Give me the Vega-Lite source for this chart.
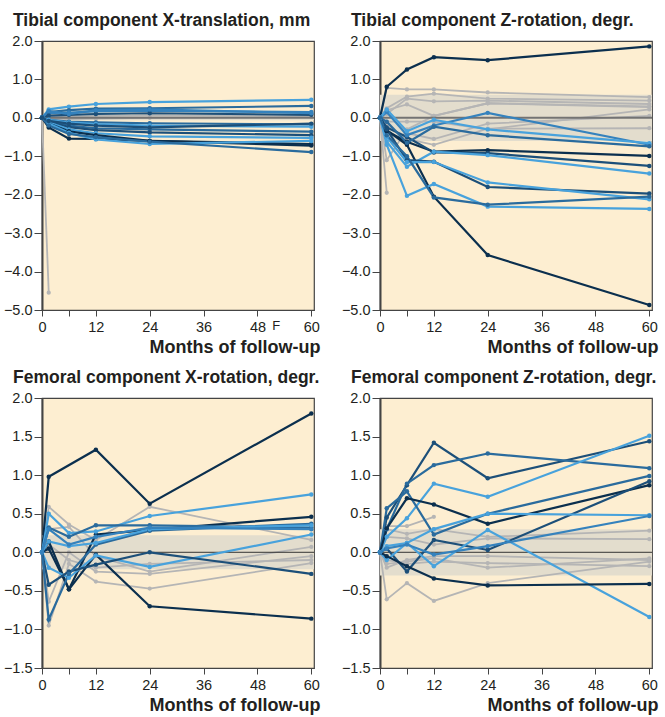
{
"$schema":"https://vega.github.io/schema/vega-lite/v6.json",
"padding":{"left":2,"top":10,"right":0,"bottom":0},
"columns":2,
"spacing":{"row":10,"column":19},
"config":{
 "font":"Liberation Sans",
 "view":{"fill":"#fdeed1","stroke":"#444444","strokeWidth":1.2},
 "title":{"anchor":"start","frame":"group","dx":-29,"fontSize":17.5,"fontWeight":"bold","color":"#231f20","offset":4},
 "axis":{"grid":false,"labelFontSize":14.5,"labelColor":"#231f20","domainColor":"#444444","tickColor":"#444444","titleFontSize":18,"titleFontWeight":"bold","titleColor":"#231f20"}
},
"datasets":{
"bands":[{"p":1,"v":-0.06,"v2":0.06},{"p":2,"v":-0.6,"v2":0.6},{"p":3,"v":-0.22,"v2":0.22},{"p":4,"v":-0.3,"v2":0.3}],
"zero":[{"p":1,"v":0},{"p":2,"v":0},{"p":3,"v":0},{"p":4,"v":0}],
"pts":[
{"p":1,"id":"a","s":"light","t":0,"v":0},{"p":1,"id":"a","s":"light","t":1.5,"v":0.22},{"p":1,"id":"a","s":"light","t":6,"v":0.29},{"p":1,"id":"a","s":"light","t":12,"v":0.36},{"p":1,"id":"a","s":"light","t":24,"v":0.41},{"p":1,"id":"a","s":"light","t":60,"v":0.47},
{"p":1,"id":"b","s":"mid","t":0,"v":0},{"p":1,"id":"b","s":"mid","t":1.5,"v":0.15},{"p":1,"id":"b","s":"mid","t":6,"v":0.2},{"p":1,"id":"b","s":"mid","t":12,"v":0.24},{"p":1,"id":"b","s":"mid","t":24,"v":0.25},{"p":1,"id":"b","s":"mid","t":60,"v":0.31},
{"p":1,"id":"c","s":"mid2","t":0,"v":0},{"p":1,"id":"c","s":"mid2","t":1.5,"v":0.12},{"p":1,"id":"c","s":"mid2","t":6,"v":0.14},{"p":1,"id":"c","s":"mid2","t":12,"v":0.17},{"p":1,"id":"c","s":"mid2","t":24,"v":0.18},{"p":1,"id":"c","s":"mid2","t":60,"v":0.15},
{"p":1,"id":"d","s":"dark","t":0,"v":0},{"p":1,"id":"d","s":"dark","t":1.5,"v":0.06},{"p":1,"id":"d","s":"dark","t":6,"v":0.08},{"p":1,"id":"d","s":"dark","t":12,"v":0.1},{"p":1,"id":"d","s":"dark","t":24,"v":0.12},{"p":1,"id":"d","s":"dark","t":60,"v":0.08},
{"p":1,"id":"e","s":"mid2","t":0,"v":0},{"p":1,"id":"e","s":"mid2","t":1.5,"v":0.18},{"p":1,"id":"e","s":"mid2","t":6,"v":0.1},{"p":1,"id":"e","s":"mid2","t":12,"v":0.2},{"p":1,"id":"e","s":"mid2","t":24,"v":0.22},{"p":1,"id":"e","s":"mid2","t":60,"v":0.12},
{"p":1,"id":"f","s":"mid","t":0,"v":0},{"p":1,"id":"f","s":"mid","t":1.5,"v":-0.05},{"p":1,"id":"f","s":"mid","t":6,"v":-0.1},{"p":1,"id":"f","s":"mid","t":12,"v":-0.12},{"p":1,"id":"f","s":"mid","t":24,"v":-0.14},{"p":1,"id":"f","s":"mid","t":60,"v":-0.17},
{"p":1,"id":"g","s":"light","t":0,"v":0},{"p":1,"id":"g","s":"light","t":1.5,"v":-0.05},{"p":1,"id":"g","s":"light","t":6,"v":-0.12},{"p":1,"id":"g","s":"light","t":12,"v":-0.16},{"p":1,"id":"g","s":"light","t":24,"v":-0.2},{"p":1,"id":"g","s":"light","t":60,"v":-0.23},
{"p":1,"id":"h","s":"mid","t":0,"v":0},{"p":1,"id":"h","s":"mid","t":1.5,"v":-0.1},{"p":1,"id":"h","s":"mid","t":6,"v":-0.2},{"p":1,"id":"h","s":"mid","t":12,"v":-0.27},{"p":1,"id":"h","s":"mid","t":24,"v":-0.3},{"p":1,"id":"h","s":"mid","t":60,"v":-0.36},
{"p":1,"id":"i","s":"dark","t":0,"v":0},{"p":1,"id":"i","s":"dark","t":1.5,"v":-0.1},{"p":1,"id":"i","s":"dark","t":6,"v":-0.24},{"p":1,"id":"i","s":"dark","t":12,"v":-0.32},{"p":1,"id":"i","s":"dark","t":24,"v":-0.38},{"p":1,"id":"i","s":"dark","t":60,"v":-0.45},
{"p":1,"id":"j","s":"light","t":0,"v":0},{"p":1,"id":"j","s":"light","t":1.5,"v":-0.12},{"p":1,"id":"j","s":"light","t":6,"v":-0.3},{"p":1,"id":"j","s":"light","t":12,"v":-0.4},{"p":1,"id":"j","s":"light","t":24,"v":-0.48},{"p":1,"id":"j","s":"light","t":60,"v":-0.52},
{"p":1,"id":"k","s":"navy","t":0,"v":0},{"p":1,"id":"k","s":"navy","t":1.5,"v":-0.25},{"p":1,"id":"k","s":"navy","t":6,"v":-0.54},{"p":1,"id":"k","s":"navy","t":12,"v":-0.55},{"p":1,"id":"k","s":"navy","t":24,"v":-0.6},{"p":1,"id":"k","s":"navy","t":60,"v":-0.68},
{"p":1,"id":"l","s":"navy","t":0,"v":0},{"p":1,"id":"l","s":"navy","t":1.5,"v":-0.15},{"p":1,"id":"l","s":"navy","t":6,"v":-0.35},{"p":1,"id":"l","s":"navy","t":12,"v":-0.45},{"p":1,"id":"l","s":"navy","t":24,"v":-0.6},{"p":1,"id":"l","s":"navy","t":60,"v":-0.72},
{"p":1,"id":"m","s":"light","t":0,"v":0},{"p":1,"id":"m","s":"light","t":1.5,"v":-0.15},{"p":1,"id":"m","s":"light","t":6,"v":-0.39},{"p":1,"id":"m","s":"light","t":12,"v":-0.56},{"p":1,"id":"m","s":"light","t":24,"v":-0.68},{"p":1,"id":"m","s":"light","t":60,"v":-0.6},
{"p":1,"id":"n","s":"mid","t":0,"v":0},{"p":1,"id":"n","s":"mid","t":1.5,"v":-0.2},{"p":1,"id":"n","s":"mid","t":6,"v":-0.42},{"p":1,"id":"n","s":"mid","t":12,"v":-0.5},{"p":1,"id":"n","s":"mid","t":24,"v":-0.62},{"p":1,"id":"n","s":"mid","t":60,"v":-0.89},
{"p":1,"id":"o","s":"dark","t":0,"v":0},{"p":1,"id":"o","s":"dark","t":1.5,"v":-0.08},{"p":1,"id":"o","s":"dark","t":6,"v":-0.15},{"p":1,"id":"o","s":"dark","t":12,"v":-0.2},{"p":1,"id":"o","s":"dark","t":24,"v":-0.25},{"p":1,"id":"o","s":"dark","t":60,"v":-0.15},
{"p":1,"id":"q","s":"grey","t":0,"v":0},{"p":1,"id":"q","s":"grey","t":1.5,"v":-4.55},
{"p":1,"id":"r","s":"grey","t":0,"v":0},{"p":1,"id":"r","s":"grey","t":1.5,"v":0.02},{"p":1,"id":"r","s":"grey","t":6,"v":0.03},{"p":1,"id":"r","s":"grey","t":12,"v":0.05},{"p":1,"id":"r","s":"grey","t":24,"v":0.06},{"p":1,"id":"r","s":"grey","t":60,"v":0.08},
{"p":1,"id":"u","s":"grey","t":0,"v":0},{"p":1,"id":"u","s":"grey","t":1.5,"v":-0.02},{"p":1,"id":"u","s":"grey","t":6,"v":-0.03},{"p":1,"id":"u","s":"grey","t":12,"v":-0.02},{"p":1,"id":"u","s":"grey","t":24,"v":0},{"p":1,"id":"u","s":"grey","t":60,"v":0.03},

{"p":2,"id":"A","s":"navy","t":0,"v":0},{"p":2,"id":"A","s":"navy","t":1.5,"v":0.81},{"p":2,"id":"A","s":"navy","t":6,"v":1.26},{"p":2,"id":"A","s":"navy","t":12,"v":1.58},{"p":2,"id":"A","s":"navy","t":24,"v":1.5},{"p":2,"id":"A","s":"navy","t":60,"v":1.86},
{"p":2,"id":"B","s":"navy","t":0,"v":0},{"p":2,"id":"B","s":"navy","t":1.5,"v":-0.32},{"p":2,"id":"B","s":"navy","t":6,"v":-0.7},{"p":2,"id":"B","s":"navy","t":12,"v":-2.05},{"p":2,"id":"B","s":"navy","t":24,"v":-3.57},{"p":2,"id":"B","s":"navy","t":60,"v":-4.87},
{"p":2,"id":"C","s":"navy","t":0,"v":0},{"p":2,"id":"C","s":"navy","t":1.5,"v":-0.35},{"p":2,"id":"C","s":"navy","t":6,"v":-0.62},{"p":2,"id":"C","s":"navy","t":12,"v":-0.88},{"p":2,"id":"C","s":"navy","t":24,"v":-0.84},{"p":2,"id":"C","s":"navy","t":60,"v":-0.99},
{"p":2,"id":"D","s":"dark","t":0,"v":0},{"p":2,"id":"D","s":"dark","t":1.5,"v":-0.25},{"p":2,"id":"D","s":"dark","t":6,"v":-0.5},{"p":2,"id":"D","s":"dark","t":12,"v":-0.9},{"p":2,"id":"D","s":"dark","t":24,"v":-0.92},{"p":2,"id":"D","s":"dark","t":60,"v":-1.25},
{"p":2,"id":"E","s":"light","t":0,"v":0},{"p":2,"id":"E","s":"light","t":1.5,"v":-0.62},{"p":2,"id":"E","s":"light","t":6,"v":-1.27},{"p":2,"id":"E","s":"light","t":12,"v":-0.88},{"p":2,"id":"E","s":"light","t":24,"v":-0.97},{"p":2,"id":"E","s":"light","t":60,"v":-1.45},
{"p":2,"id":"F","s":"mid2","t":0,"v":0},{"p":2,"id":"F","s":"mid2","t":1.5,"v":0.15},{"p":2,"id":"F","s":"mid2","t":6,"v":-0.45},{"p":2,"id":"F","s":"mid2","t":12,"v":-0.2},{"p":2,"id":"F","s":"mid2","t":24,"v":0.13},{"p":2,"id":"F","s":"mid2","t":60,"v":-0.7},
{"p":2,"id":"G","s":"light","t":0,"v":0},{"p":2,"id":"G","s":"light","t":1.5,"v":0.22},{"p":2,"id":"G","s":"light","t":6,"v":-0.35},{"p":2,"id":"G","s":"light","t":12,"v":-0.05},{"p":2,"id":"G","s":"light","t":24,"v":-0.3},{"p":2,"id":"G","s":"light","t":60,"v":-0.66},
{"p":2,"id":"H","s":"mid","t":0,"v":0},{"p":2,"id":"H","s":"mid","t":1.5,"v":-0.1},{"p":2,"id":"H","s":"mid","t":6,"v":-0.65},{"p":2,"id":"H","s":"mid","t":12,"v":-0.23},{"p":2,"id":"H","s":"mid","t":24,"v":-0.45},{"p":2,"id":"H","s":"mid","t":60,"v":-0.74},
{"p":2,"id":"I","s":"dark","t":0,"v":0},{"p":2,"id":"I","s":"dark","t":1.5,"v":-0.3},{"p":2,"id":"I","s":"dark","t":6,"v":-1.1},{"p":2,"id":"I","s":"dark","t":12,"v":-1.14},{"p":2,"id":"I","s":"dark","t":24,"v":-1.8},{"p":2,"id":"I","s":"dark","t":60,"v":-1.97},
{"p":2,"id":"J","s":"light","t":0,"v":0},{"p":2,"id":"J","s":"light","t":1.5,"v":-0.7},{"p":2,"id":"J","s":"light","t":6,"v":-2.03},{"p":2,"id":"J","s":"light","t":12,"v":-1.72},{"p":2,"id":"J","s":"light","t":24,"v":-2.31},{"p":2,"id":"J","s":"light","t":60,"v":-2.37},
{"p":2,"id":"K","s":"light","t":0,"v":0},{"p":2,"id":"K","s":"light","t":1.5,"v":-0.5},{"p":2,"id":"K","s":"light","t":6,"v":-1.15},{"p":2,"id":"K","s":"light","t":12,"v":-1.15},{"p":2,"id":"K","s":"light","t":24,"v":-1.68},{"p":2,"id":"K","s":"light","t":60,"v":-2.12},
{"p":2,"id":"L","s":"mid","t":0,"v":0},{"p":2,"id":"L","s":"mid","t":1.5,"v":-0.45},{"p":2,"id":"L","s":"mid","t":6,"v":-1.0},{"p":2,"id":"L","s":"mid","t":12,"v":-2.07},{"p":2,"id":"L","s":"mid","t":24,"v":-2.26},{"p":2,"id":"L","s":"mid","t":60,"v":-2.05},
{"p":2,"id":"g1","s":"grey","t":0,"v":0},{"p":2,"id":"g1","s":"grey","t":1.5,"v":0.78},{"p":2,"id":"g1","s":"grey","t":6,"v":0.74},{"p":2,"id":"g1","s":"grey","t":12,"v":0.74},{"p":2,"id":"g1","s":"grey","t":24,"v":0.66},{"p":2,"id":"g1","s":"grey","t":60,"v":0.54},
{"p":2,"id":"g2","s":"grey","t":0,"v":0},{"p":2,"id":"g2","s":"grey","t":1.5,"v":0.25},{"p":2,"id":"g2","s":"grey","t":6,"v":0.55},{"p":2,"id":"g2","s":"grey","t":12,"v":0.63},{"p":2,"id":"g2","s":"grey","t":24,"v":0.5},{"p":2,"id":"g2","s":"grey","t":60,"v":0.45},
{"p":2,"id":"g3","s":"grey","t":0,"v":0},{"p":2,"id":"g3","s":"grey","t":1.5,"v":0.1},{"p":2,"id":"g3","s":"grey","t":6,"v":0.5},{"p":2,"id":"g3","s":"grey","t":12,"v":0.43},{"p":2,"id":"g3","s":"grey","t":24,"v":0.45},{"p":2,"id":"g3","s":"grey","t":60,"v":0.36},
{"p":2,"id":"g4","s":"grey","t":0,"v":0},{"p":2,"id":"g4","s":"grey","t":1.5,"v":0.2},{"p":2,"id":"g4","s":"grey","t":6,"v":0.35},{"p":2,"id":"g4","s":"grey","t":12,"v":0.05},{"p":2,"id":"g4","s":"grey","t":24,"v":0.38},{"p":2,"id":"g4","s":"grey","t":60,"v":0.28},
{"p":2,"id":"g5","s":"grey","t":0,"v":0},{"p":2,"id":"g5","s":"grey","t":1.5,"v":-0.1},{"p":2,"id":"g5","s":"grey","t":6,"v":-0.1},{"p":2,"id":"g5","s":"grey","t":12,"v":-0.1},{"p":2,"id":"g5","s":"grey","t":24,"v":-0.3},{"p":2,"id":"g5","s":"grey","t":60,"v":0.22},
{"p":2,"id":"g6","s":"grey","t":0,"v":0},{"p":2,"id":"g6","s":"grey","t":1.5,"v":0.15},{"p":2,"id":"g6","s":"grey","t":6,"v":-0.4},{"p":2,"id":"g6","s":"grey","t":12,"v":-0.55},{"p":2,"id":"g6","s":"grey","t":24,"v":-0.15},{"p":2,"id":"g6","s":"grey","t":60,"v":0.05},
{"p":2,"id":"g7","s":"grey","t":0,"v":0},{"p":2,"id":"g7","s":"grey","t":1.5,"v":-0.2},{"p":2,"id":"g7","s":"grey","t":6,"v":-0.55},{"p":2,"id":"g7","s":"grey","t":12,"v":-0.7},{"p":2,"id":"g7","s":"grey","t":24,"v":-0.28},{"p":2,"id":"g7","s":"grey","t":60,"v":-0.27},
{"p":2,"id":"g8","s":"grey","t":0,"v":0},{"p":2,"id":"g8","s":"grey","t":1.5,"v":-1.1},{"p":2,"id":"g8","s":"grey","t":6,"v":-0.3},{"p":2,"id":"g8","s":"grey","t":12,"v":0.05},{"p":2,"id":"g8","s":"grey","t":24,"v":0.38},{"p":2,"id":"g8","s":"grey","t":60,"v":0.3},
{"p":2,"id":"g9","s":"grey","t":0,"v":0},{"p":2,"id":"g9","s":"grey","t":1.5,"v":-1.95},

{"p":3,"id":"A","s":"navy","t":0,"v":0},{"p":3,"id":"A","s":"navy","t":1.5,"v":0.98},{"p":3,"id":"A","s":"navy","t":12,"v":1.33},{"p":3,"id":"A","s":"navy","t":24,"v":0.63},{"p":3,"id":"A","s":"navy","t":60,"v":1.8},
{"p":3,"id":"B","s":"navy","t":0,"v":0},{"p":3,"id":"B","s":"navy","t":1.5,"v":0.05},{"p":3,"id":"B","s":"navy","t":6,"v":-0.48},{"p":3,"id":"B","s":"navy","t":12,"v":0.23},{"p":3,"id":"B","s":"navy","t":24,"v":0.29},{"p":3,"id":"B","s":"navy","t":60,"v":0.46},
{"p":3,"id":"C","s":"navy","t":0,"v":0},{"p":3,"id":"C","s":"navy","t":1.5,"v":0.14},{"p":3,"id":"C","s":"navy","t":6,"v":-0.48},{"p":3,"id":"C","s":"navy","t":12,"v":-0.03},{"p":3,"id":"C","s":"navy","t":24,"v":-0.7},{"p":3,"id":"C","s":"navy","t":60,"v":-0.86},
{"p":3,"id":"D","s":"light","t":0,"v":0},{"p":3,"id":"D","s":"light","t":1.5,"v":0.5},{"p":3,"id":"D","s":"light","t":6,"v":0.25},{"p":3,"id":"D","s":"light","t":12,"v":0.27},{"p":3,"id":"D","s":"light","t":24,"v":0.47},{"p":3,"id":"D","s":"light","t":60,"v":0.75},
{"p":3,"id":"E","s":"mid","t":0,"v":0},{"p":3,"id":"E","s":"mid","t":1.5,"v":0.32},{"p":3,"id":"E","s":"mid","t":6,"v":0.2},{"p":3,"id":"E","s":"mid","t":12,"v":0.35},{"p":3,"id":"E","s":"mid","t":24,"v":0.35},{"p":3,"id":"E","s":"mid","t":60,"v":0.32},
{"p":3,"id":"F","s":"light","t":0,"v":0},{"p":3,"id":"F","s":"light","t":1.5,"v":-0.2},{"p":3,"id":"F","s":"light","t":6,"v":-0.33},{"p":3,"id":"F","s":"light","t":12,"v":-0.04},{"p":3,"id":"F","s":"light","t":24,"v":-0.19},{"p":3,"id":"F","s":"light","t":60,"v":0.23},
{"p":3,"id":"G","s":"dark","t":0,"v":0},{"p":3,"id":"G","s":"dark","t":1.5,"v":-0.42},{"p":3,"id":"G","s":"dark","t":6,"v":-0.25},{"p":3,"id":"G","s":"dark","t":12,"v":-0.16},{"p":3,"id":"G","s":"dark","t":24,"v":0},{"p":3,"id":"G","s":"dark","t":60,"v":-0.28},
{"p":3,"id":"H","s":"mid","t":0,"v":0},{"p":3,"id":"H","s":"mid","t":1.5,"v":-0.87},{"p":3,"id":"H","s":"mid","t":6,"v":-0.28},{"p":3,"id":"H","s":"mid","t":12,"v":0.1},{"p":3,"id":"H","s":"mid","t":24,"v":0.28},{"p":3,"id":"H","s":"mid","t":60,"v":0.37},
{"p":3,"id":"I","s":"light","t":0,"v":0},{"p":3,"id":"I","s":"light","t":1.5,"v":0.14},{"p":3,"id":"I","s":"light","t":6,"v":0.08},{"p":3,"id":"I","s":"light","t":12,"v":0.12},{"p":3,"id":"I","s":"light","t":24,"v":0.3},{"p":3,"id":"I","s":"light","t":60,"v":0.35},
{"p":3,"id":"J","s":"mid2","t":0,"v":0},{"p":3,"id":"J","s":"mid2","t":1.5,"v":0.3},{"p":3,"id":"J","s":"mid2","t":6,"v":0.1},{"p":3,"id":"J","s":"mid2","t":12,"v":0.2},{"p":3,"id":"J","s":"mid2","t":24,"v":0.32},{"p":3,"id":"J","s":"mid2","t":60,"v":0.3},
{"p":3,"id":"g1","s":"grey","t":0,"v":0},{"p":3,"id":"g1","s":"grey","t":1.5,"v":0.59},{"p":3,"id":"g1","s":"grey","t":6,"v":0.36},{"p":3,"id":"g1","s":"grey","t":12,"v":0.16},{"p":3,"id":"g1","s":"grey","t":24,"v":0.59},{"p":3,"id":"g1","s":"grey","t":60,"v":0.16},
{"p":3,"id":"g2","s":"grey","t":0,"v":0},{"p":3,"id":"g2","s":"grey","t":1.5,"v":-0.64},{"p":3,"id":"g2","s":"grey","t":6,"v":0},{"p":3,"id":"g2","s":"grey","t":12,"v":-0.25},{"p":3,"id":"g2","s":"grey","t":24,"v":-0.28},{"p":3,"id":"g2","s":"grey","t":60,"v":-0.05},
{"p":3,"id":"g3","s":"grey","t":0,"v":0},{"p":3,"id":"g3","s":"grey","t":1.5,"v":-0.95},{"p":3,"id":"g3","s":"grey","t":6,"v":-0.15},{"p":3,"id":"g3","s":"grey","t":12,"v":-0.38},{"p":3,"id":"g3","s":"grey","t":24,"v":-0.47},{"p":3,"id":"g3","s":"grey","t":60,"v":-0.14},
{"p":3,"id":"g4","s":"grey","t":0,"v":0},{"p":3,"id":"g4","s":"grey","t":1.5,"v":0.3},{"p":3,"id":"g4","s":"grey","t":6,"v":0.33},{"p":3,"id":"g4","s":"grey","t":12,"v":-0.05},{"p":3,"id":"g4","s":"grey","t":24,"v":-0.25},{"p":3,"id":"g4","s":"grey","t":60,"v":0.07},
{"p":3,"id":"g5","s":"grey","t":0,"v":0},{"p":3,"id":"g5","s":"grey","t":1.5,"v":0.1},{"p":3,"id":"g5","s":"grey","t":6,"v":-0.1},{"p":3,"id":"g5","s":"grey","t":12,"v":-0.2},{"p":3,"id":"g5","s":"grey","t":24,"v":-0.15},{"p":3,"id":"g5","s":"grey","t":60,"v":-0.1},

{"p":4,"id":"A","s":"dark","t":0,"v":0},{"p":4,"id":"A","s":"dark","t":1.5,"v":0.45},{"p":4,"id":"A","s":"dark","t":6,"v":0.87},{"p":4,"id":"A","s":"dark","t":12,"v":1.42},{"p":4,"id":"A","s":"dark","t":24,"v":0.96},{"p":4,"id":"A","s":"dark","t":60,"v":1.44},
{"p":4,"id":"B","s":"mid","t":0,"v":0},{"p":4,"id":"B","s":"mid","t":1.5,"v":0.3},{"p":4,"id":"B","s":"mid","t":6,"v":0.89},{"p":4,"id":"B","s":"mid","t":12,"v":1.13},{"p":4,"id":"B","s":"mid","t":24,"v":1.28},{"p":4,"id":"B","s":"mid","t":60,"v":1.09},
{"p":4,"id":"C","s":"light","t":0,"v":0},{"p":4,"id":"C","s":"light","t":1.5,"v":0.2},{"p":4,"id":"C","s":"light","t":6,"v":0.44},{"p":4,"id":"C","s":"light","t":12,"v":0.89},{"p":4,"id":"C","s":"light","t":24,"v":0.72},{"p":4,"id":"C","s":"light","t":60,"v":1.51},
{"p":4,"id":"D","s":"mid","t":0,"v":0},{"p":4,"id":"D","s":"mid","t":1.5,"v":0.57},{"p":4,"id":"D","s":"mid","t":6,"v":0.79},{"p":4,"id":"D","s":"mid","t":12,"v":0.23},{"p":4,"id":"D","s":"mid","t":24,"v":0.5},{"p":4,"id":"D","s":"mid","t":60,"v":0.99},
{"p":4,"id":"E","s":"navy","t":0,"v":0},{"p":4,"id":"E","s":"navy","t":1.5,"v":0.31},{"p":4,"id":"E","s":"navy","t":6,"v":0.7},{"p":4,"id":"E","s":"navy","t":12,"v":0.62},{"p":4,"id":"E","s":"navy","t":24,"v":0.37},{"p":4,"id":"E","s":"navy","t":60,"v":0.87},
{"p":4,"id":"F","s":"dark","t":0,"v":0},{"p":4,"id":"F","s":"dark","t":1.5,"v":0.05},{"p":4,"id":"F","s":"dark","t":6,"v":-0.25},{"p":4,"id":"F","s":"dark","t":12,"v":0.16},{"p":4,"id":"F","s":"dark","t":24,"v":0.03},{"p":4,"id":"F","s":"dark","t":60,"v":0.92},
{"p":4,"id":"G","s":"light","t":0,"v":0},{"p":4,"id":"G","s":"light","t":1.5,"v":-0.1},{"p":4,"id":"G","s":"light","t":6,"v":0.12},{"p":4,"id":"G","s":"light","t":12,"v":-0.18},{"p":4,"id":"G","s":"light","t":24,"v":0.29},{"p":4,"id":"G","s":"light","t":60,"v":-0.84},
{"p":4,"id":"H","s":"navy","t":0,"v":0},{"p":4,"id":"H","s":"navy","t":1.5,"v":-0.05},{"p":4,"id":"H","s":"navy","t":6,"v":-0.18},{"p":4,"id":"H","s":"navy","t":12,"v":-0.34},{"p":4,"id":"H","s":"navy","t":24,"v":-0.43},{"p":4,"id":"H","s":"navy","t":60,"v":-0.41},
{"p":4,"id":"I","s":"light","t":0,"v":0},{"p":4,"id":"I","s":"light","t":1.5,"v":0.08},{"p":4,"id":"I","s":"light","t":6,"v":0.12},{"p":4,"id":"I","s":"light","t":12,"v":0.3},{"p":4,"id":"I","s":"light","t":24,"v":0.5},{"p":4,"id":"I","s":"light","t":60,"v":0.48},
{"p":4,"id":"J","s":"mid2","t":0,"v":0},{"p":4,"id":"J","s":"mid2","t":1.5,"v":0.05},{"p":4,"id":"J","s":"mid2","t":6,"v":0.1},{"p":4,"id":"J","s":"mid2","t":12,"v":-0.03},{"p":4,"id":"J","s":"mid2","t":24,"v":0.08},{"p":4,"id":"J","s":"mid2","t":60,"v":0.47},
{"p":4,"id":"g1","s":"grey","t":0,"v":0},{"p":4,"id":"g1","s":"grey","t":1.5,"v":-0.61},{"p":4,"id":"g1","s":"grey","t":6,"v":-0.4},{"p":4,"id":"g1","s":"grey","t":12,"v":-0.63},{"p":4,"id":"g1","s":"grey","t":24,"v":-0.4},{"p":4,"id":"g1","s":"grey","t":60,"v":-0.12},
{"p":4,"id":"g2","s":"grey","t":0,"v":0},{"p":4,"id":"g2","s":"grey","t":1.5,"v":0.34},{"p":4,"id":"g2","s":"grey","t":6,"v":0.34},{"p":4,"id":"g2","s":"grey","t":12,"v":0.46},
{"p":4,"id":"g3","s":"grey","t":0,"v":0},{"p":4,"id":"g3","s":"grey","t":1.5,"v":0.3},{"p":4,"id":"g3","s":"grey","t":6,"v":0.24},{"p":4,"id":"g3","s":"grey","t":12,"v":0.3},{"p":4,"id":"g3","s":"grey","t":24,"v":0.2},{"p":4,"id":"g3","s":"grey","t":60,"v":0.28},
{"p":4,"id":"g4","s":"grey","t":0,"v":0},{"p":4,"id":"g4","s":"grey","t":1.5,"v":0.2},{"p":4,"id":"g4","s":"grey","t":6,"v":0.18},{"p":4,"id":"g4","s":"grey","t":12,"v":0.1},{"p":4,"id":"g4","s":"grey","t":24,"v":0.18},{"p":4,"id":"g4","s":"grey","t":60,"v":0.17},
{"p":4,"id":"g5","s":"grey","t":0,"v":0},{"p":4,"id":"g5","s":"grey","t":1.5,"v":-0.2},{"p":4,"id":"g5","s":"grey","t":6,"v":-0.1},{"p":4,"id":"g5","s":"grey","t":12,"v":-0.05},{"p":4,"id":"g5","s":"grey","t":24,"v":-0.05},{"p":4,"id":"g5","s":"grey","t":60,"v":-0.1},
{"p":4,"id":"g6","s":"grey","t":0,"v":0},{"p":4,"id":"g6","s":"grey","t":1.5,"v":-0.1},{"p":4,"id":"g6","s":"grey","t":6,"v":-0.15},{"p":4,"id":"g6","s":"grey","t":12,"v":-0.12},{"p":4,"id":"g6","s":"grey","t":24,"v":-0.14},{"p":4,"id":"g6","s":"grey","t":60,"v":-0.18},
{"p":4,"id":"g7","s":"grey","t":0,"v":0},{"p":4,"id":"g7","s":"grey","t":1.5,"v":-0.15},{"p":4,"id":"g7","s":"grey","t":6,"v":-0.12},{"p":4,"id":"g7","s":"grey","t":12,"v":-0.08},{"p":4,"id":"g7","s":"grey","t":24,"v":-0.2},{"p":4,"id":"g7","s":"grey","t":60,"v":-0.08}
]},
"concat":[
{"width":272,"height":269,"title":"Tibial component X-translation, mm",
 "encoding":{"x":{"field":"t","type":"quantitative","scale":{"domain":[0,60.6],"nice":false},"axis":{"values":[0,6,12,24,36,48,60],"labelExpr":"datum.value == 6 ? '' : datum.label","tickSize":6,"labelPadding":4,"labelFlush":false,"title":"Months of follow-up","titleAnchor":"end","titleAlign":"right","titleX":278,"titleY":42,"titleBaseline":"alphabetic","domainWidth":1.2}},"y":{"field":"v","type":"quantitative","scale":{"domain":[-5,2],"nice":false},"axis":{"values":[-5,-4,-3,-2,-1,0,1,2],"format":".1f","tickSize":8,"labelPadding":2,"title":null,"domainWidth":2,"labelFlush":false}}},
 "layer":[
  {"data":{"name":"bands"},"transform":[{"filter":"datum.p == 1"}],"mark":{"type":"rect","fill":"#e3ddcd"},"encoding":{"x":{"value":0},"x2":{"value":"width"},"y2":{"field":"v2"}}},
  {"data":{"name":"pts"},"transform":[{"filter":"datum.p == 1 && datum.s == 'grey'"}],"mark":{"type":"line","strokeWidth":1.8,"point":{"filled":true,"size":18}},"encoding":{"detail":{"field":"id"},"color":{"field":"s","scale":{"domain":["navy","dark","mid","mid2","light","grey"],"range":["#0b2f4e","#1c4f79","#2a6b9d","#3582bd","#48a2dc","#b5b5b5"]},"legend":null}}},
  {"data":{"name":"zero"},"transform":[{"filter":"datum.p == 1"}],"mark":{"type":"rule","color":"#737373","strokeWidth":2},"encoding":{"x":{"value":0},"x2":{"value":"width"}}},
  {"data":{"name":"pts"},"transform":[{"filter":"datum.p == 1 && datum.s != 'grey'"}],"mark":{"type":"line","strokeWidth":2.2,"point":{"filled":true,"size":20}},"encoding":{"detail":{"field":"id"},"color":{"field":"s","legend":null}}},
  {"data":{"values":[{"t":51.3,"v":-5.52,"txt":"F"}]},"mark":{"type":"text","fontSize":13,"color":"#231f20","baseline":"alphabetic","align":"left"},"encoding":{"text":{"field":"txt"}}}
 ]},
{"width":272,"height":269,"title":"Tibial component Z-rotation, degr.",
 "encoding":{"x":{"field":"t","type":"quantitative","scale":{"domain":[0,60.6],"nice":false},"axis":{"values":[0,6,12,24,36,48,60],"labelExpr":"datum.value == 6 ? '' : datum.label","tickSize":6,"labelPadding":4,"labelFlush":false,"title":"Months of follow-up","titleAnchor":"end","titleAlign":"right","titleX":278,"titleY":42,"titleBaseline":"alphabetic","domainWidth":1.2}},"y":{"field":"v","type":"quantitative","scale":{"domain":[-5,2],"nice":false},"axis":{"values":[-5,-4,-3,-2,-1,0,1,2],"format":".1f","tickSize":8,"labelPadding":2,"title":null,"domainWidth":2,"labelFlush":false}}},
 "layer":[
  {"data":{"name":"bands"},"transform":[{"filter":"datum.p == 2"}],"mark":{"type":"rect","fill":"#e3ddcd"},"encoding":{"x":{"value":0},"x2":{"value":"width"},"y2":{"field":"v2"}}},
  {"data":{"name":"pts"},"transform":[{"filter":"datum.p == 2 && datum.s == 'grey'"}],"mark":{"type":"line","strokeWidth":1.8,"point":{"filled":true,"size":18}},"encoding":{"detail":{"field":"id"},"color":{"field":"s","legend":null}}},
  {"data":{"name":"zero"},"transform":[{"filter":"datum.p == 2"}],"mark":{"type":"rule","color":"#737373","strokeWidth":2},"encoding":{"x":{"value":0},"x2":{"value":"width"}}},
  {"data":{"name":"pts"},"transform":[{"filter":"datum.p == 2 && datum.s != 'grey'"}],"mark":{"type":"line","strokeWidth":2.2,"point":{"filled":true,"size":20}},"encoding":{"detail":{"field":"id"},"color":{"field":"s","legend":null}}}
 ]},
{"width":272,"height":270,"title":"Femoral component X-rotation, degr.",
 "encoding":{"x":{"field":"t","type":"quantitative","scale":{"domain":[0,60.6],"nice":false},"axis":{"values":[0,6,12,24,36,48,60],"labelExpr":"datum.value == 6 ? '' : datum.label","tickSize":6,"labelPadding":4,"labelFlush":false,"title":"Months of follow-up","titleAnchor":"end","titleAlign":"right","titleX":278,"titleY":42,"titleBaseline":"alphabetic","domainWidth":1.2}},"y":{"field":"v","type":"quantitative","scale":{"domain":[-1.5,2],"nice":false},"axis":{"values":[-1.5,-1,-0.5,0,0.5,1,1.5,2],"format":".1f","tickSize":8,"labelPadding":2,"title":null,"domainWidth":2,"labelFlush":false}}},
 "layer":[
  {"data":{"name":"bands"},"transform":[{"filter":"datum.p == 3"}],"mark":{"type":"rect","fill":"#e3ddcd"},"encoding":{"x":{"value":0},"x2":{"value":"width"},"y2":{"field":"v2"}}},
  {"data":{"name":"pts"},"transform":[{"filter":"datum.p == 3 && datum.s == 'grey'"}],"mark":{"type":"line","strokeWidth":1.8,"point":{"filled":true,"size":18}},"encoding":{"detail":{"field":"id"},"color":{"field":"s","legend":null}}},
  {"data":{"name":"zero"},"transform":[{"filter":"datum.p == 3"}],"mark":{"type":"rule","color":"#333333","strokeWidth":1},"encoding":{"x":{"value":0},"x2":{"value":"width"}}},
  {"data":{"name":"pts"},"transform":[{"filter":"datum.p == 3 && datum.s != 'grey'"}],"mark":{"type":"line","strokeWidth":2.2,"point":{"filled":true,"size":20}},"encoding":{"detail":{"field":"id"},"color":{"field":"s","legend":null}}}
 ]},
{"width":272,"height":270,"title":"Femoral component Z-rotation, degr.",
 "encoding":{"x":{"field":"t","type":"quantitative","scale":{"domain":[0,60.6],"nice":false},"axis":{"values":[0,6,12,24,36,48,60],"labelExpr":"datum.value == 6 ? '' : datum.label","tickSize":6,"labelPadding":4,"labelFlush":false,"title":"Months of follow-up","titleAnchor":"end","titleAlign":"right","titleX":278,"titleY":42,"titleBaseline":"alphabetic","domainWidth":1.2}},"y":{"field":"v","type":"quantitative","scale":{"domain":[-1.5,2],"nice":false},"axis":{"values":[-1.5,-1,-0.5,0,0.5,1,1.5,2],"format":".1f","tickSize":8,"labelPadding":2,"title":null,"domainWidth":2,"labelFlush":false}}},
 "layer":[
  {"data":{"name":"bands"},"transform":[{"filter":"datum.p == 4"}],"mark":{"type":"rect","fill":"#e3ddcd"},"encoding":{"x":{"value":0},"x2":{"value":"width"},"y2":{"field":"v2"}}},
  {"data":{"name":"pts"},"transform":[{"filter":"datum.p == 4 && datum.s == 'grey'"}],"mark":{"type":"line","strokeWidth":1.8,"point":{"filled":true,"size":18}},"encoding":{"detail":{"field":"id"},"color":{"field":"s","legend":null}}},
  {"data":{"name":"zero"},"transform":[{"filter":"datum.p == 4"}],"mark":{"type":"rule","color":"#333333","strokeWidth":1},"encoding":{"x":{"value":0},"x2":{"value":"width"}}},
  {"data":{"name":"pts"},"transform":[{"filter":"datum.p == 4 && datum.s != 'grey'"}],"mark":{"type":"line","strokeWidth":2.2,"point":{"filled":true,"size":20}},"encoding":{"detail":{"field":"id"},"color":{"field":"s","legend":null}}}
 ]}
]
}
